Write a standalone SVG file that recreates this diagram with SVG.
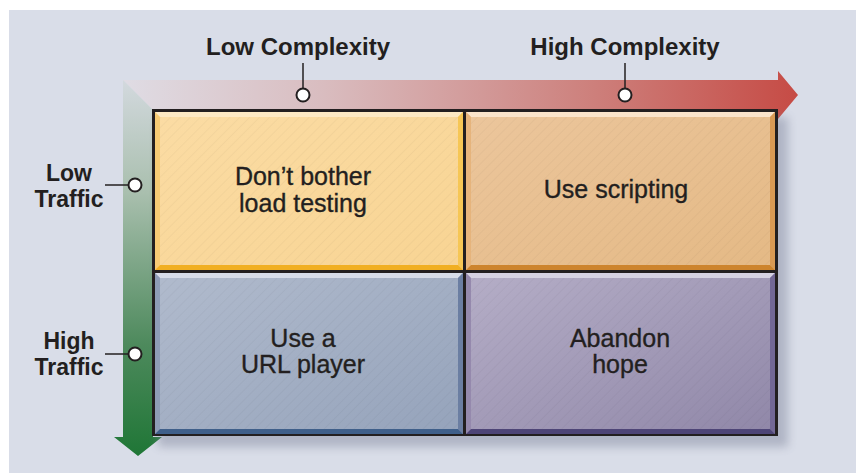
<svg xmlns="http://www.w3.org/2000/svg" width="856" height="473" viewBox="0 0 856 473">
  <defs>
    <linearGradient id="gHoriz" x1="123" y1="0" x2="798" y2="0" gradientUnits="userSpaceOnUse">
      <stop offset="0" stop-color="#dfdce4"/>
      <stop offset="0.3" stop-color="#d9bcbf"/>
      <stop offset="0.7" stop-color="#cd7f7b"/>
      <stop offset="1" stop-color="#c64b45"/>
    </linearGradient>
    <linearGradient id="gVert" x1="0" y1="80" x2="0" y2="456" gradientUnits="userSpaceOnUse">
      <stop offset="0" stop-color="#d3d9de"/>
      <stop offset="0.3" stop-color="#a9bfae"/>
      <stop offset="0.7" stop-color="#4e8a5d"/>
      <stop offset="1" stop-color="#1f7636"/>
    </linearGradient>
    <linearGradient id="fillTL" x1="0" y1="0" x2="1" y2="1">
      <stop offset="0" stop-color="#fbdca4"/>
      <stop offset="1" stop-color="#f8d493"/>
    </linearGradient>
    <linearGradient id="fillTR" x1="0" y1="0" x2="1" y2="1">
      <stop offset="0" stop-color="#ecc69c"/>
      <stop offset="1" stop-color="#e4b985"/>
    </linearGradient>
    <linearGradient id="fillBL" x1="0" y1="0" x2="1" y2="1">
      <stop offset="0" stop-color="#b1bbcd"/>
      <stop offset="1" stop-color="#95a3bb"/>
    </linearGradient>
    <linearGradient id="fillBR" x1="0" y1="0" x2="1" y2="1">
      <stop offset="0" stop-color="#b5aec7"/>
      <stop offset="1" stop-color="#9087a8"/>
    </linearGradient>
    <pattern id="hatch" width="7" height="7" patternUnits="userSpaceOnUse" patternTransform="rotate(45)">
      <line x1="0" y1="0" x2="0" y2="7" stroke="#000" stroke-opacity="0.06" stroke-width="1"/>
    </pattern>
    <filter id="shadow" x="-10%" y="-10%" width="120%" height="130%">
      <feGaussianBlur stdDeviation="5"/>
    </filter>
  </defs>
  <style>
    .lbl { font-family: "Liberation Sans", Arial, sans-serif; font-weight: bold; font-size: 24px; fill: #231f20; text-anchor: middle; }
    .side { font-size: 23px; }
    .cell { font-family: "Liberation Sans", Arial, sans-serif; font-size: 25px; fill: #231f20; stroke: #231f20; stroke-width: 0.35; text-anchor: middle; }
    .lead { stroke: #231f20; stroke-width: 1.5; fill: none; }
    .dot { fill: #ffffff; stroke: #231f20; stroke-width: 2; }
    .hatch { fill: url(#hatch); }
  </style>

  <!-- backdrop -->
  <rect x="0" y="0" width="856" height="473" fill="#ffffff"/>
  <rect x="9" y="10" width="847" height="463" fill="#d9dde8"/>

  <!-- axis arrows -->
  <g id="axes">
    <polygon id="axis-complexity" points="123,80 778,80 778,71 798,95 778,119 778,110 153,110" fill="url(#gHoriz)"/>
    <polygon id="axis-traffic" points="123,80 153,110 153,437 162,437 138,456 114,437 123,437" fill="url(#gVert)"/>
  </g>

  <!-- grid shadow and frame -->
  <rect x="158" y="117" width="630" height="330" fill="#7d839a" opacity="0.45" filter="url(#shadow)"/>
  <rect x="152" y="109" width="626" height="327" fill="#231f20"/>

  <!-- quadrant cells -->
  <g id="cell-tl">
    <rect x="155" y="112" width="308" height="158" fill="url(#fillTL)"/>
    <rect x="155" y="112" width="308" height="158" class="hatch"/>
    <polygon points="155,112 463,112 458,117 160,117" fill="#fde9c4"/>
    <polygon points="155,112 160,117 160,265 155,270" fill="#f7cb74"/>
    <polygon points="463,112 458,117 458,265 463,270" fill="#f6c655"/>
    <polygon points="155,270 463,270 458,265 160,265" fill="#f1af22"/>
    <text class="cell" x="303" y="185">Don’t bother</text>
    <text class="cell" x="303" y="212">load testing</text>
  </g>
  <g id="cell-tr">
    <rect x="466" y="112" width="309" height="158" fill="url(#fillTR)"/>
    <rect x="466" y="112" width="309" height="158" class="hatch"/>
    <polygon points="466,112 775,112 770,117 471,117" fill="#fae4cb"/>
    <polygon points="466,112 471,117 471,265 466,270" fill="#e6b47c"/>
    <polygon points="775,112 770,117 770,265 775,270" fill="#d99a54"/>
    <polygon points="466,270 775,270 770,265 471,265" fill="#cd842d"/>
    <text class="cell" x="616" y="198">Use scripting</text>
  </g>
  <g id="cell-bl">
    <rect x="155" y="273" width="308" height="161" fill="url(#fillBL)"/>
    <rect x="155" y="273" width="308" height="161" class="hatch"/>
    <polygon points="155,273 463,273 458,278 160,278" fill="#d7dce8"/>
    <polygon points="155,273 160,278 160,429 155,434" fill="#8e9cb6"/>
    <polygon points="463,273 458,278 458,429 463,434" fill="#6b7ea2"/>
    <polygon points="155,434 463,434 458,429 160,429" fill="#3f5f8a"/>
    <text class="cell" x="303" y="347">Use a</text>
    <text class="cell" x="303" y="373">URL player</text>
  </g>
  <g id="cell-br">
    <rect x="466" y="273" width="309" height="161" fill="url(#fillBR)"/>
    <rect x="466" y="273" width="309" height="161" class="hatch"/>
    <polygon points="466,273 775,273 770,278 471,278" fill="#d6d2e2"/>
    <polygon points="466,273 471,278 471,429 466,434" fill="#9589ad"/>
    <polygon points="775,273 770,278 770,429 775,434" fill="#736895"/>
    <polygon points="466,434 775,434 770,429 471,429" fill="#4e4577"/>
    <text class="cell" x="620" y="347">Abandon</text>
    <text class="cell" x="620" y="373">hope</text>
  </g>

  <!-- axis labels -->
  <g id="label-low-complexity">
    <text class="lbl" x="298" y="55">Low Complexity</text>
  </g>
  <g id="label-high-complexity">
    <text class="lbl" x="625" y="55">High Complexity</text>
  </g>
  <g id="label-low-traffic">
    <text class="lbl side" x="69" y="181">Low</text>
    <text class="lbl side" x="69" y="207">Traffic</text>
  </g>
  <g id="label-high-traffic">
    <text class="lbl side" x="69" y="349">High</text>
    <text class="lbl side" x="69" y="375">Traffic</text>
  </g>

  <!-- leader lines to the axes -->
  <g id="connectors">
    <line class="lead" x1="303" y1="63" x2="303" y2="89"/>
    <circle class="dot" cx="303" cy="95" r="6.5"/>
    <line class="lead" x1="625" y1="63" x2="625" y2="89"/>
    <circle class="dot" cx="625" cy="95" r="6.5"/>
    <line class="lead" x1="105" y1="185" x2="129" y2="185"/>
    <circle class="dot" cx="135" cy="185" r="6.5"/>
    <line class="lead" x1="105" y1="354" x2="129" y2="354"/>
    <circle class="dot" cx="135" cy="354" r="6.5"/>
  </g>
</svg>
